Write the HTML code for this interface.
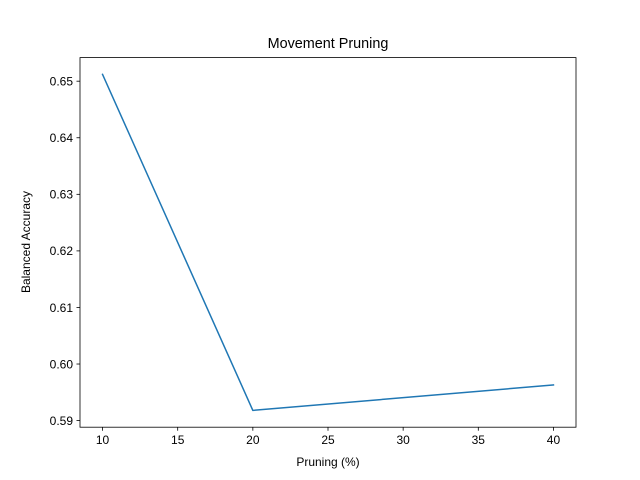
<!DOCTYPE html>
<html><head><meta charset="utf-8"><style>
html,body{margin:0;padding:0;background:#fff;}
svg{display:block;font-family:"Liberation Sans","DejaVu Sans",sans-serif;}
</style></head><body>
<svg id="chart" width="640" height="480" viewBox="0 0 640 480">
<rect width="640" height="480" fill="#fff"/>
<text x="328" y="48" text-anchor="middle" font-size="14.4" fill="#000">Movement Pruning</text>
<text x="328" y="466" text-anchor="middle" font-size="12" fill="#000">Pruning (%)</text>
<text transform="translate(30,242) rotate(-90)" text-anchor="middle" font-size="12" fill="#000">Balanced Accuracy</text>
<g id="ticks"></g>
<polyline id="line" fill="none" stroke="#1f77b4" stroke-width="1.5" stroke-linejoin="round" stroke-linecap="square"/>
<rect x="80" y="57.6" width="496" height="369.6" fill="none" stroke="#000" stroke-width="0.8"/>
</svg>
<script>
const xValues = [10, 20, 40];
const yValues = [0.6512, 0.5918, 0.5963];
const xTicks = [10, 15, 20, 25, 30, 35, 40];
const yTicks = [0.59, 0.60, 0.61, 0.62, 0.63, 0.64, 0.65];

const L = 80, R = 576, T = 57.6, B = 427.2;
const xmin0 = Math.min(...xValues), xmax0 = Math.max(...xValues);
const ymin0 = Math.min(...yValues), ymax0 = Math.max(...yValues);
const xpad = (xmax0 - xmin0) * 0.05, ypad = (ymax0 - ymin0) * 0.05;
const xlo = xmin0 - xpad, xhi = xmax0 + xpad, ylo = ymin0 - ypad, yhi = ymax0 + ypad;
function sx(v){ return L + (v - xlo) / (xhi - xlo) * (R - L); }
function sy(v){ return B - (v - ylo) / (yhi - ylo) * (B - T); }

const NS = 'http://www.w3.org/2000/svg';
const g = document.getElementById('ticks');
function mk(tag, attrs){ const e = document.createElementNS(NS, tag); for (const k in attrs) e.setAttribute(k, attrs[k]); return e; }

xTicks.forEach(t => {
  const x = sx(t);
  const ln = mk('line', {x1:x, x2:x, y1:B, y2:B+3.5, stroke:'#000', 'stroke-width':0.8});
  
  
  g.appendChild(ln);
  const tx = mk('text', {x:x, y:B+17, 'text-anchor':'middle', 'font-size':12, fill:'#000'});
  
  
  tx.textContent = String(t);
  g.appendChild(tx);
});
yTicks.forEach(t => {
  const y = sy(t);
  const ln = mk('line', {x1:L-3.5, x2:L, y1:y, y2:y, stroke:'#000', 'stroke-width':0.8});
  
  
  g.appendChild(ln);
  const tx = mk('text', {x:L-7, y:y+4.3, 'text-anchor':'end', 'font-size':12, fill:'#000'});
  
  
  tx.textContent = t.toFixed(2);
  g.appendChild(tx);
});
document.getElementById('line').setAttribute('points', xValues.map((v,i) => sx(v) + ',' + sy(yValues[i])).join(' '));
</script>
</body></html>
